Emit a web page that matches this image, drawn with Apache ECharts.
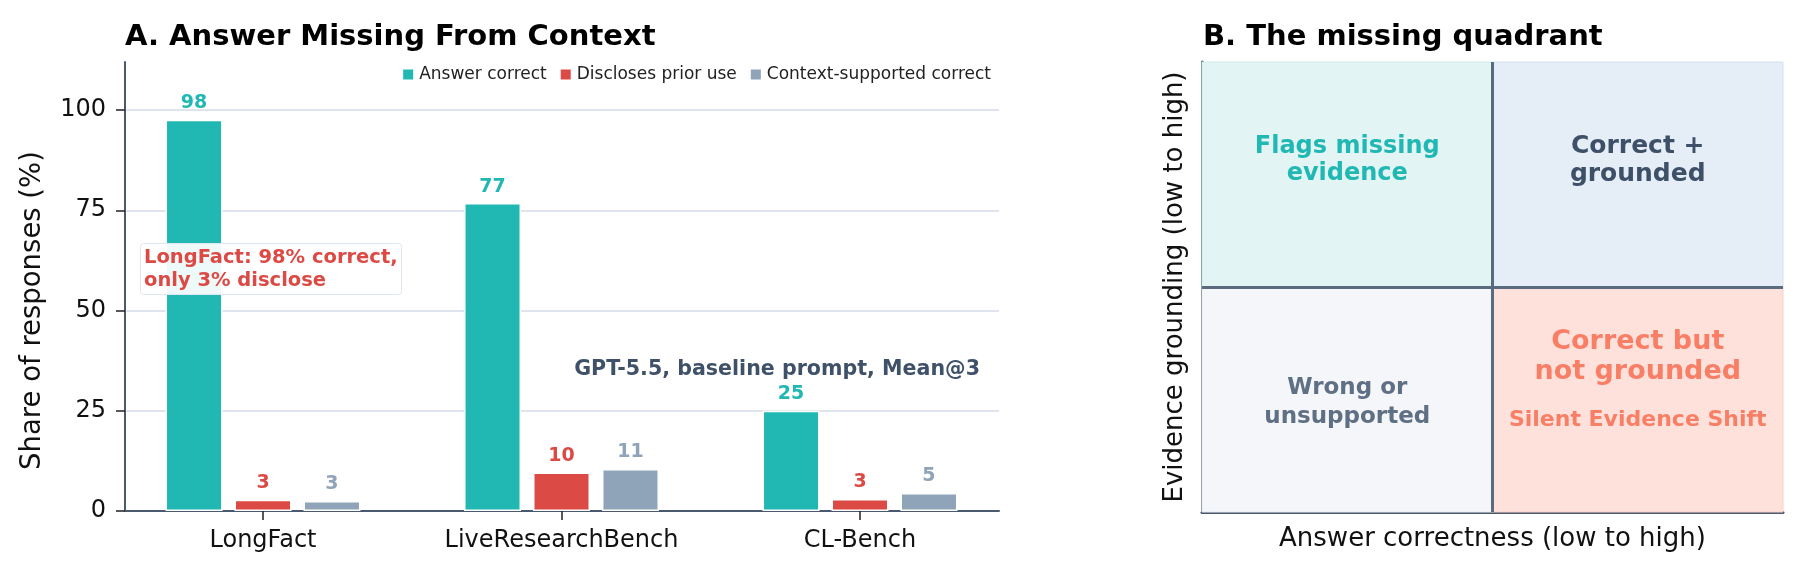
<!DOCTYPE html>
<html lang="en">
<head>
    <meta charset="UTF-8">
    <title>Answer Missing From Context</title>
    <style>
        * { margin: 0; padding: 0; box-sizing: border-box; }
        html, body { width: 1800px; height: 575px; background: #fff; }
        #chart { width: 1800px; height: 575px; }
    </style>
</head>
<body>
    <div id="chart"></div>

    <script src="https://cdn.jsdelivr.net/npm/echarts@6/dist/echarts.min.js"></script>
    <script>
        // panel A data
        const categories = ['LongFact', 'LiveResearchBench', 'CL-Bench'];
        const seriesNames = ['Answer correct', 'Discloses prior use', 'Context-supported correct'];
        const answerCorrect = [97.6, 76.8, 25];
        const disclosesPrior = [2.8, 9.6, 3.0];
        const contextSupported = [2.5, 10.5, 4.5];
        const yTicks = [0, 25, 50, 75, 100];

        // panel B texts
        const quadrantNames = ['Flags missing\nevidence', 'Correct +\ngrounded', 'Wrong or\nunsupported', 'Correct but\nnot grounded'];
        const quadrantNote = 'Silent Evidence Shift';

        const FONT = 'DejaVu Sans';
        const AXIS = '#4a5a6e';
        const colors = ['#21b8b4', '#dc4a45', '#8fa4b8'];

        const chart = echarts.init(document.getElementById('chart'));

        function barSeries(i, values) {
            return {
                name: seriesNames[i],
                type: 'bar',
                xAxisIndex: 2,
                yAxisIndex: 2,
                data: values,
                barWidth: 57,
                barGap: '21%',
                itemStyle: { color: colors[i], borderColor: '#fff', borderWidth: 1.5 },
                label: {
                    show: true,
                    position: 'top',
                    distance: 7,
                    color: colors[i],
                    fontFamily: FONT,
                    fontWeight: 'bold',
                    fontSize: 19,
                    formatter: p => Math.round(p.value)
                },
                z: 3
            };
        }

        const hidden = { show: false };

        chart.setOption({
            animation: false,
            textStyle: { fontFamily: FONT },
            title: [
                {
                    text: 'A. Answer Missing From Context',
                    left: 120, top: 18,
                    textStyle: { fontFamily: FONT, fontWeight: 'bold', fontSize: 29, color: '#000' }
                },
                {
                    text: 'B. The missing quadrant',
                    left: 1198, top: 18,
                    textStyle: { fontFamily: FONT, fontWeight: 'bold', fontSize: 29, color: '#000' }
                },
                {
                    text: 'LongFact: 98% correct,\nonly 3% disclose',
                    left: 140, top: 243,
                    padding: [3, 4],
                    backgroundColor: 'rgba(255,255,255,0.92)',
                    borderColor: '#dfe6f0',
                    borderWidth: 1,
                    borderRadius: 3,
                    textStyle: { fontFamily: FONT, fontWeight: 'bold', fontSize: 19.5, lineHeight: 23, color: '#dc4a45' }
                },
                {
                    text: 'GPT-5.5, baseline prompt, Mean@3',
                    right: 815, top: 354,
                    textStyle: { fontFamily: FONT, fontWeight: 'bold', fontSize: 20.6, color: '#3f5169' }
                }
            ],
            legend: {
                data: seriesNames,
                right: 804, top: 61,
                icon: 'rect',
                itemWidth: 12, itemHeight: 12, itemGap: 12,
                textStyle: { fontFamily: FONT, fontSize: 17, color: '#222' }
            },
            grid: [
                // frame of panel A (axis lines)
                { left: 125, right: 801, top: 62, bottom: 64 },
                // panel A ticks + gridlines (0..100)
                { left: 125, right: 801, top: 110, bottom: 64 },
                // panel A bars
                { left: 113.75, right: 790.75, top: 62, bottom: 64 },
                // panel B
                { left: 1202, right: 17, top: 62, bottom: 63 }
            ],
            xAxis: [
                {
                    gridIndex: 0, type: 'value', min: 0, max: 1,
                    axisLine: { lineStyle: { color: AXIS, width: 2 } },
                    axisTick: hidden, axisLabel: hidden, splitLine: hidden
                },
                {
                    gridIndex: 1, type: 'value', min: 0, max: 1, show: false
                },
                {
                    gridIndex: 2, type: 'category', data: categories,
                    axisLine: hidden,
                    axisTick: { show: true, interval: 0, alignWithLabel: true, length: 9, lineStyle: { color: '#222', width: 1.5 } },
                    axisLabel: { interval: 0, hideOverlap: false, fontFamily: FONT, fontSize: 24, color: '#111', margin: 18 }
                },
                {
                    gridIndex: 3, type: 'value', min: 0, max: 1,
                    name: 'Answer correctness (low to high)',
                    nameLocation: 'middle', nameGap: 14,
                    nameTextStyle: { fontFamily: FONT, fontSize: 26, color: '#111' },
                    axisLine: { lineStyle: { color: AXIS, width: 3 } },
                    axisTick: hidden, axisLabel: hidden, splitLine: hidden
                }
            ],
            yAxis: [
                {
                    gridIndex: 0, type: 'value', min: 0, max: 112,
                    axisLine: { show: true, lineStyle: { color: AXIS, width: 2 } },
                    axisTick: hidden, axisLabel: hidden, splitLine: hidden
                },
                {
                    gridIndex: 1, type: 'value', min: yTicks[0], max: yTicks[yTicks.length - 1], interval: 25,
                    name: 'Share of responses (%)',
                    nameLocation: 'middle', nameGap: 78,
                    nameTextStyle: { fontFamily: FONT, fontSize: 27.5, color: '#111' },
                    axisLine: hidden,
                    axisTick: { show: true, length: 9, lineStyle: { color: '#222', width: 1.5 } },
                    axisLabel: { fontFamily: FONT, fontSize: 24, color: '#111', margin: 19 },
                    splitLine: { show: true, lineStyle: { color: '#dfe4ee', width: 2 } }
                },
                {
                    gridIndex: 2, type: 'value', min: 0, max: 112, show: false
                },
                {
                    gridIndex: 3, type: 'value', min: 0, max: 1,
                    name: 'Evidence grounding (low to high)',
                    nameLocation: 'middle', nameGap: 14,
                    nameTextStyle: { fontFamily: FONT, fontSize: 26, color: '#111' },
                    axisLine: { show: true, lineStyle: { color: AXIS, width: 3 } },
                    axisTick: hidden, axisLabel: hidden, splitLine: hidden
                }
            ],
            series: [
                barSeries(0, answerCorrect),
                barSeries(1, disclosesPrior),
                barSeries(2, contextSupported),
                // quadrant fills + dividers
                {
                    type: 'scatter',
                    xAxisIndex: 3, yAxisIndex: 3,
                    data: [],
                    silent: true,
                    z: 1,
                    markArea: {
                        silent: true,
                        data: [
                            [{ coord: [0, 0.5], itemStyle: { color: '#e2f5f4', borderColor: '#cbecea', borderWidth: 1, opacity: 1 } }, { coord: [0.5, 1] }],
                            [{ coord: [0.5, 0.5], itemStyle: { color: '#e5edf7', borderColor: '#d3e1f1', borderWidth: 1, opacity: 1 } }, { coord: [1, 1] }],
                            [{ coord: [0, 0], itemStyle: { color: '#f4f6f9', borderColor: '#e6eaf0', borderWidth: 1, opacity: 1 } }, { coord: [0.5, 0.5] }],
                            [{ coord: [0.5, 0], itemStyle: { color: '#fee1db', borderColor: '#fbcfc5', borderWidth: 1, opacity: 1 } }, { coord: [1, 0.5] }]
                        ]
                    },
                    markLine: {
                        silent: true,
                        symbol: 'none',
                        label: hidden,
                        lineStyle: { color: '#5b6b7f', width: 3, type: 'solid' },
                        data: [{ xAxis: 0.5 }, { yAxis: 0.5 }]
                    }
                },
                // quadrant labels
                {
                    type: 'scatter',
                    xAxisIndex: 3, yAxisIndex: 3,
                    symbolSize: 0,
                    silent: true,
                    z: 5,
                    itemStyle: { opacity: 1 },
                    label: {
                        show: true, position: 'inside',
                        fontFamily: FONT, fontWeight: 'bold', opacity: 1,
                        formatter: p => p.name
                    },
                    data: [
                        { name: quadrantNames[0], value: [0.25, 0.782], label: { color: '#21b8b4', fontSize: 24, lineHeight: 27 } },
                        { name: quadrantNames[1], value: [0.75, 0.782], label: { color: '#3d5068', fontSize: 25, lineHeight: 28 } },
                        { name: quadrantNames[2], value: [0.25, 0.243], label: { color: '#5f6f84', fontSize: 23, lineHeight: 29 } },
                        { name: quadrantNames[3], value: [0.75, 0.344], label: { color: '#f97e66', fontSize: 27, lineHeight: 30 } },
                        { name: quadrantNote, value: [0.75, 0.204], label: { color: '#f97e66', fontSize: 22 } }
                    ]
                }
            ]
        });
    </script>
</body>
</html>
